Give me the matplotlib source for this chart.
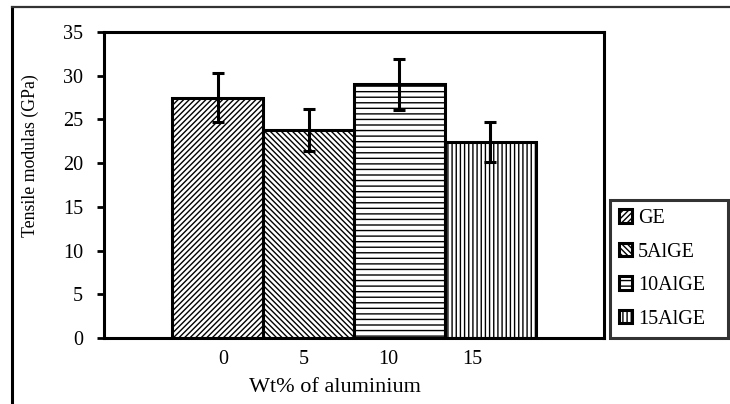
import matplotlib
matplotlib.use("Agg")
import matplotlib.pyplot as plt
from matplotlib.lines import Line2D

plt.rcParams['font.family'] = ['Liberation Serif', 'DejaVu Serif']
plt.rcParams['hatch.linewidth'] = 1.0

categories = ['GE', '5AlGE', '10AlGE', '15AlGE']
values = [27.5, 23.8, 29.0, 22.4]
errors = [2.8, 2.4, 2.9, 2.25]
hatches = ['//////', '\\\\\\\\\\\\', '---', '||||']
xtick_labels = ['0', '5', '10', '15']
yticks = [0, 5, 10, 15, 20, 25, 30, 35]

W, H = 730, 404
fig = plt.figure(figsize=(W / 100, H / 100), dpi=100)
ax = fig.add_axes([104 / W, 1 - 338 / H, 500 / W, 306 / H])

n = len(categories)
w = 1 / (n + 1.5)
bars = []
for i, (c, v, e, h) in enumerate(zip(categories, values, errors, hatches)):
    x = -0.5 * n * w + (i + 0.5) * w
    b = ax.bar(x, v, width=w, color='white', edgecolor='black', linewidth=2.2,
               hatch=h, label=c, zorder=2)
    ax.errorbar(x, v, yerr=e, fmt='none', ecolor='black', elinewidth=2.2,
                capsize=4, capthick=2.2, zorder=3)
    bars.append(b)

ax.set_xlim(-0.5, 0.5)
ax.set_ylim(0, 35)
ax.set_yticks(yticks)
ax.set_yticklabels([str(t) for t in yticks], fontsize=14.5)
xtick_pos = [-0.262, -0.1, 0.068, 0.236]
ax.set_xticks(xtick_pos)
ax.set_xticklabels(xtick_labels, fontsize=14.5)
ax.tick_params(axis='x', length=0, pad=9)
ax.tick_params(axis='y', direction='out', length=5, width=2, pad=10)
for s in ax.spines.values():
    s.set_linewidth(2.2)
    s.set_color('black')

fig.text(30 / W, 1 - 156 / H, 'Tensile modulas (GPa)', rotation=90,
         ha='center', va='center', fontsize=12.8)
fig.text(335 / W, 1 - 387 / H, 'Wt% of aluminium', ha='center', va='center',
         fontsize=16)

leg_h = 0.01
leg = fig.legend(handles=bars, labels=categories, loc='upper left',
                 bbox_to_anchor=(610 / W, 1 - 200 / H - leg_h, 118 / W, leg_h),
                 mode='expand', fontsize=14.5,
                 frameon=True, fancybox=False, handlelength=0.65,
                 handleheight=0.65, handletextpad=0.3, labelspacing=0.72,
                 borderpad=0.45, borderaxespad=0)
leg.get_frame().set_edgecolor('black')
leg.get_frame().set_linewidth(2.2)

# outer chart frame
fig.add_artist(Line2D([12 / W, 12 / W], [0, 1 - 7 / H], color='black',
                      linewidth=2.2, transform=fig.transFigure))
fig.add_artist(Line2D([12 / W, 1], [1 - 7 / H, 1 - 7 / H], color='#333333',
                      linewidth=1.6, transform=fig.transFigure))

fig.savefig('out.png', dpi=100)
